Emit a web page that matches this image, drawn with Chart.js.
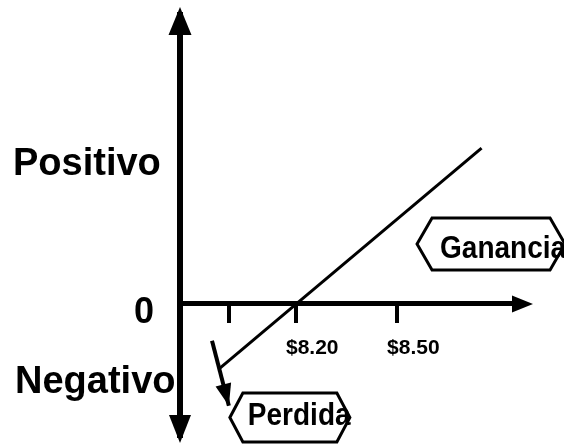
<!DOCTYPE html>
<html><head><meta charset="utf-8">
<script src="https://cdn.jsdelivr.net/npm/chart.js@4"></script>
<style>html,body{margin:0;padding:0;background:#fff}canvas{display:block}</style>
</head><body><canvas id="c" width="564" height="445"></canvas>
<script>
// ---- data ----
const priceTicks = [8.00, 8.20, 8.50];
const priceTickLabels = ['', '$8.20', '$8.50'];
const payoffPrice = [7.97, 8.75];
const payoffValue = [-0.23, 0.55];
const lossArrowPrice = [7.95, 8.00];
const lossArrowValue = [-0.13, -0.36];
const sideLabels = ['Positivo', '0', 'Negativo'];
const calloutLabels = ['Ganancia', 'Perdida'];

const FONT = '"Liberation Sans", Arial, Helvetica, sans-serif';

const decor = {
  id: 'decor',
  afterDraw(chart) {
    const {ctx, chartArea: a, scales: {x, y}} = chart;
    const ax = y.right;
    const ay = y.getPixelForValue(0);
    ctx.save();
    ctx.fillStyle = '#000';
    ctx.strokeStyle = '#000';
    const tri = (tx, ty, dx, dy, len, w) => {
      const bx = tx - dx * len, by = ty - dy * len;
      const px = -dy, py = dx;
      ctx.beginPath();
      ctx.moveTo(tx, ty);
      ctx.lineTo(bx + px * w / 2, by + py * w / 2);
      ctx.lineTo(bx - px * w / 2, by - py * w / 2);
      ctx.closePath();
      ctx.fill();
    };
    // axis arrowheads
    tri(ax, a.top - 8, 0, -1, 28, 23);
    tri(ax, a.bottom + 6, 0, 1, 28, 22);
    tri(a.right + 11, ay, 1, 0, 21, 17);

    // side labels
    ctx.textBaseline = 'alphabetic';
    ctx.textAlign = 'left';
    ctx.font = 'bold 38px ' + FONT;
    ctx.fillText(sideLabels[0], 13, y.getPixelForValue(0.455));
    ctx.font = 'bold 36px ' + FONT;
    ctx.fillText(sideLabels[1], 134, y.getPixelForValue(-0.067));
    ctx.font = 'bold 38px ' + FONT;
    ctx.fillText(sideLabels[2], 15, y.getPixelForValue(-0.315));

    // callout boxes
    const box = (label, xv, yv, w, h, c, tdx, tdy) => {
      const l = x.getPixelForValue(xv), m = y.getPixelForValue(yv);
      const t = m - h / 2, b = m + h / 2, r = l + w;
      ctx.beginPath();
      ctx.moveTo(l, m);
      ctx.lineTo(l + c, t);
      ctx.lineTo(r - c, t);
      ctx.lineTo(r, m);
      ctx.lineTo(r - c, b);
      ctx.lineTo(l + c, b);
      ctx.closePath();
      ctx.fillStyle = '#fff';
      ctx.fill();
      ctx.lineWidth = 3;
      ctx.lineJoin = 'miter';
      ctx.stroke();
      ctx.fillStyle = '#000';
      ctx.save();
      ctx.translate(l + tdx, m + tdy);
      ctx.scale(1, 1.15);
      ctx.font = 'bold 28px ' + FONT;
      ctx.fillText(label, 0, 0);
      ctx.restore();
    };
    box(calloutLabels[0], 8.5585, 0.2115, 148, 52, 15, 23, 14);
    box(calloutLabels[1], 8.003, -0.401, 120, 49, 13, 18, 8);

    // loss arrowhead
    const x0 = x.getPixelForValue(lossArrowPrice[0]), y0 = y.getPixelForValue(lossArrowValue[0]);
    const x1 = x.getPixelForValue(lossArrowPrice[1]), y1 = y.getPixelForValue(lossArrowValue[1]);
    const d = Math.hypot(x1 - x0, y1 - y0);
    ctx.fillStyle = '#000';
    tri(x1, y1, (x1 - x0) / d, (y1 - y0) / d, 22, 16);
    ctx.restore();
  }
};

new Chart(document.getElementById('c'), {
  type: 'scatter',
  data: {
    datasets: [
      {
        data: payoffPrice.map((p, i) => ({x: p, y: payoffValue[i]})),
        showLine: true, borderColor: '#000', borderWidth: 3, pointRadius: 0, clip: false
      },
      {
        data: lossArrowPrice.map((p, i) => ({x: p, y: lossArrowValue[i]})),
        showLine: true, borderColor: '#000', borderWidth: 4, pointRadius: 0, clip: false
      }
    ]
  },
  options: {
    responsive: false,
    animation: false,
    devicePixelRatio: 1,
    layout: {padding: {left: 180, top: 15, right: 42, bottom: 8}},
    plugins: {legend: {display: false}, tooltip: {enabled: false}},
    scales: {
      x: {
        type: 'linear', position: {y: 0}, min: 7.855, max: 8.87,
        afterBuildTicks: s => { s.ticks = priceTicks.map(v => ({value: v})); },
        ticks: {
          callback: (v, i) => priceTickLabels[i],
          autoSkip: false, maxRotation: 0, minRotation: 0, labelOffset: 16, padding: 15,
          color: '#000', font: {family: FONT, size: 21, weight: 'bold'}
        },
        grid: {drawOnChartArea: false, drawTicks: true, tickLength: 17, tickWidth: 4,
               tickColor: '#000', color: '#000', lineWidth: 4},
        border: {display: true, color: '#000', width: 5}
      },
      y: {
        type: 'linear', position: 'left', min: -0.47, max: 1.02,
        ticks: {display: false},
        grid: {display: true, drawOnChartArea: false, drawTicks: false},
        border: {display: true, color: '#000', width: 6}
      }
    }
  },
  plugins: [decor]
});
</script>
</body></html>
